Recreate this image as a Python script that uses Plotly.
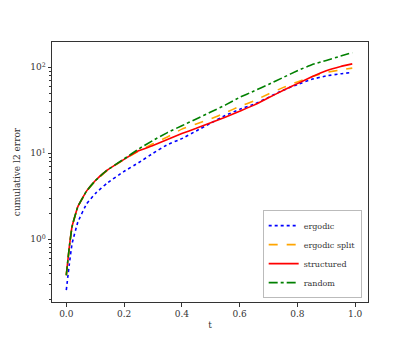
import plotly.graph_objects as go

t = [0, 0.01, 0.02, 0.04, 0.07, 0.1, 0.14, 0.2, 0.25, 0.3, 0.35, 0.4, 0.45, 0.5,
     0.55, 0.6, 0.65, 0.7, 0.75, 0.8, 0.85, 0.9, 0.95, 0.99]

ergodic = [0.257, 0.501, 0.891, 1.585, 2.57, 3.39, 4.47, 6.17, 7.76, 10.0, 12.6, 14.8,
           18.2, 22.4, 27.5, 32.4, 37.2, 44.7, 54.0, 63.1, 72.4, 79.4, 84.1, 87.1]
ergodic_split = [0.38, 0.78, 1.40, 2.38, 3.60, 4.75, 6.25, 8.45, 10.6, 12.9, 15.5, 19.1,
                 21.9, 25.1, 29.5, 35.1, 40.7, 49.0, 58.0, 67.6, 77.6, 87.1, 93.3, 97.7]
structured = [0.385, 0.794, 1.41, 2.40, 3.63, 4.79, 6.31, 8.51, 10.7, 12.3, 14.5, 17.0,
              19.5, 22.6, 26.3, 30.9, 36.3, 44.2, 53.7, 64.6, 77.6, 91.2, 102.3, 109.6]
random_ = [0.38, 0.79, 1.41, 2.40, 3.63, 4.79, 6.31, 8.6, 11.2, 14.1, 17.4, 20.9,
           25.1, 30.2, 36.3, 44.7, 53.0, 63.1, 75.9, 91.2, 107.2, 120.2, 134.9, 147.9]

x_ticks = [0.0, 0.2, 0.4, 0.6, 0.8, 1.0]
x_tick_text = ["0.0", "0.2", "0.4", "0.6", "0.8", "1.0"]
y_ticks = [1, 10, 100]
y_tick_text = ["10<sup>0</sup>", "10<sup>1</sup>", "10<sup>2</sup>"]
y_minor = [0.2, 0.3, 0.4, 0.5, 0.6, 0.7, 0.8, 0.9, 2, 3, 4, 5, 6, 7, 8, 9,
           20, 30, 40, 50, 60, 70, 80, 90, 200]

series = [
    ("ergodic", ergodic, "blue", "dot"),
    ("ergodic split", ergodic_split, "orange", "dash"),
    ("structured", structured, "red", "solid"),
    ("random", random_, "green", "dashdot"),
]

FONT = "DejaVu Serif, Liberation Serif, serif"
fig = go.Figure()
for name, vals, color, dash in series:
    fig.add_trace(go.Scatter(
        x=t, y=vals, name=name, mode="lines",
        line=dict(color=color, dash=dash, width=1.6, shape="spline", smoothing=0.3),
    ))

axis_common = dict(
    showline=True, linecolor="#333", linewidth=1, mirror=True, automargin=False,
    ticks="outside", ticklen=3.5, tickcolor="#333", showgrid=False, zeroline=False,
    tickfont=dict(family=FONT, size=9, color="#333"),
)
fig.update_layout(
    width=409, height=340,
    margin=dict(l=44, r=49, t=34, b=46),
    paper_bgcolor="white", plot_bgcolor="white",
    font=dict(family=FONT, color="#333", size=9),
    xaxis=dict(range=[-0.0495, 1.0445], tickvals=x_ticks, ticktext=x_tick_text,
               title=dict(text="t", font=dict(family=FONT, size=9), standoff=3),
               **axis_common),
    yaxis=dict(type="log", range=[-0.729, 2.294], tickvals=y_ticks, ticktext=y_tick_text,
               minor=dict(tickvals=y_minor, ticks="outside", ticklen=2, tickcolor="#333"),
               title=dict(text="cumulative l2 error", font=dict(family=FONT, size=9), standoff=8),
               **axis_common),
    legend=dict(x=0.98, y=0.015, xanchor="right", yanchor="bottom",
                bgcolor="white", bordercolor="#bbb", borderwidth=1,
                font=dict(family=FONT, size=8, color="#333"),
                tracegroupgap=0, itemwidth=30),
    showlegend=True,
)
fig.write_html("out.html")
